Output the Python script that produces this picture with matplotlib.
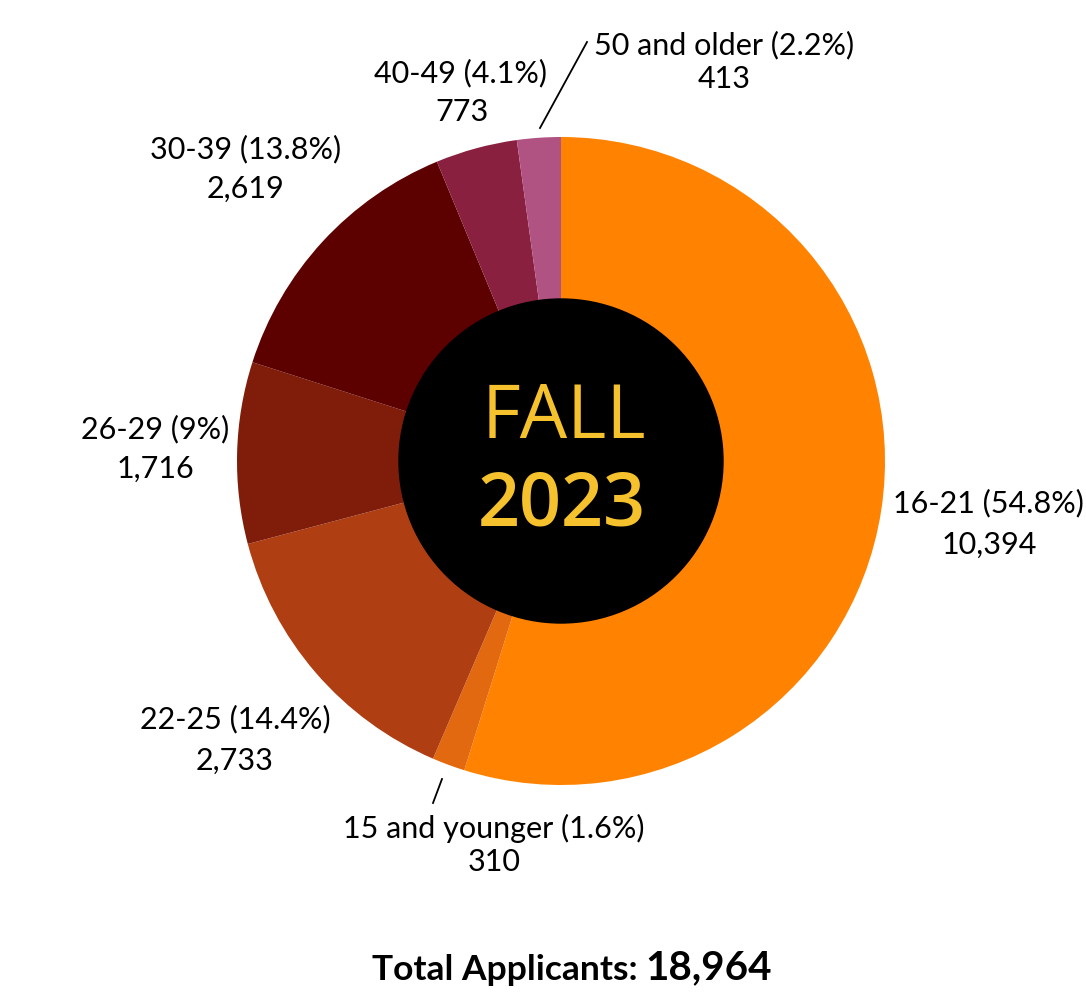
#!/usr/bin/env python3

import numpy as np
from matplotlib import pyplot as plt

AGE_GROUPS = ['16-21', '15 and younger', '22-25', '26-29', '30-39', '40-49', '50 and older']
APPLICANTS = [10394, 310, 2733, 1716, 2619, 773, 413]
PERCENTS = ['54.8%', '1.6%', '14.4%', '9%', '13.8%', '4.1%', '2.2%']
COLORS = ['#FF8200', '#E2690F', '#AF3F12', '#801C0A', '#5C0000', '#8A2040', '#B05382']
TOTAL = 18964

# label centres in pixel coordinates (x, y from top)
LABEL_POS = [(988, 503), (494, 828), (235, 719), (155, 429), (246, 149), (461, 73), (724, 45)]
VALUE_POS = [(989, 545), (494, 862), (235, 761), (155, 469), (246, 189), (462, 112), (724, 79)]

W, H = 1086, 993
CX, CY, R = 561, 461, 324

def main():
  fig = plt.figure(figsize=(W / 100, H / 100), dpi=100)
  ax = fig.add_axes([0, 0, 1, 1])
  ax.pie(APPLICANTS, colors=COLORS, startangle=90, counterclock=False,
         center=(CX, H - CY), radius=R, wedgeprops={'linewidth': 0})
  ax.add_patch(plt.Circle((CX, H - CY), 162, color='black', zorder=3))
  ax.set_xlim(0, W)
  ax.set_ylim(0, H)
  ax.set_aspect('equal')
  ax.axis('off')

  ax.text(CX + 3, H - 419, 'FALL', ha='center', va='center', fontsize=54,
          family='Open Sans', fontweight='medium', color='#F5C22E', zorder=4)
  ax.text(CX + 1, H - 506, '2023', ha='center', va='center', fontsize=53,
          family='Open Sans', fontweight='semibold', color='#F5C22E', zorder=4)

  for grp, pct, n, lp, vp in zip(AGE_GROUPS, PERCENTS, APPLICANTS, LABEL_POS, VALUE_POS):
    ax.text(lp[0], H - lp[1], f'{grp} ({pct})', ha='center', va='center',
            fontsize=22, family='Lato')
    ax.text(vp[0], H - vp[1], f'{n:,}', ha='center', va='center',
            fontsize=22, family='Lato')

  # leader lines for the two thin slices
  ax.plot([540, 587], [H - 128, H - 42], color='black', lw=1.3)
  ax.plot([433, 442], [H - 803, H - 779], color='black', lw=1.3)

  ax.text(638, H - 970, 'Total Applicants:', ha='right', va='center',
          fontsize=25.5, family='Lato', fontweight='bold')
  ax.text(645, H - 968, f'{TOTAL:,}', ha='left', va='center',
          fontsize=29, family='Lato', fontweight='bold')

  fig.savefig('out.png', dpi=100)

if __name__ == "__main__":
  main()
